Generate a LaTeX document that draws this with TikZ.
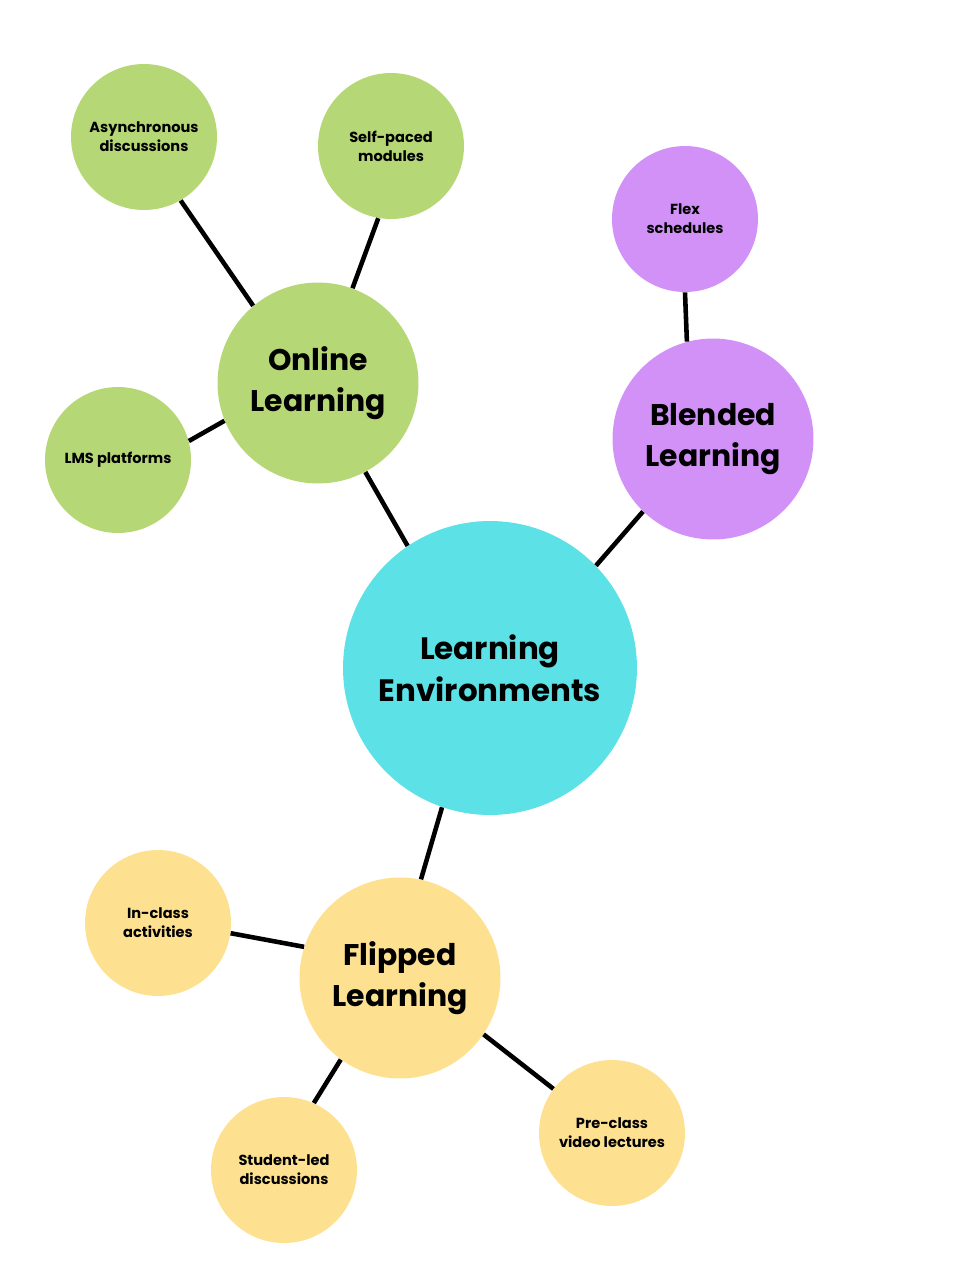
\documentclass[tikz,border=0pt]{standalone}
\usepackage{fontspec}
\setmainfont{Poppins}
\definecolor{cRoot}{HTML}{5CE1E6}
\definecolor{cOnline}{HTML}{B6D776}
\definecolor{cBlend}{HTML}{D291F7}
\definecolor{cFlip}{HTML}{FDE090}
\tikzset{
  rootnode/.style={circle, fill=#1, minimum size=5.88cm, inner sep=0pt,
    align=center, font=\bfseries\fontsize{17.6}{24}\selectfont},
  topicnode/.style={circle, fill=#1, minimum size=4.02cm, inner sep=0pt,
    align=center, font=\bfseries\fontsize{17}{23}\selectfont},
  leafnode/.style={circle, fill=#1, minimum size=2.92cm, inner sep=0pt,
    align=center, font=\bfseries\fontsize{8.3}{10.8}\selectfont},
  link/.style={black, line width=2.6pt}
}

\begin{document}
\begin{tikzpicture}[x=0.02cm, y=-0.02cm]

  \useasboundingbox (0,0) rectangle (980,1269);

  % --------------------------------------------------------------------------
  % Centre and main topics
  % --------------------------------------------------------------------------
  \node[rootnode=cRoot]    (env)     at (490,668) {Learning\\Environments};
  \node[topicnode=cOnline] (online)  at (318,383) {Online\\Learning};
  \node[topicnode=cBlend]  (blended) at (713,439) {Blended\\Learning};
  \node[topicnode=cFlip]   (flipped) at (400,978) {Flipped\\Learning};

  % --------------------------------------------------------------------------
  % Leaves
  % --------------------------------------------------------------------------
  \node[leafnode=cOnline] (async) at (144,137) {Asynchronous\\discussions};
  \node[leafnode=cOnline] (self)  at (391,146) {Self-paced\\modules};
  \node[leafnode=cOnline] (lms)   at (118,460) {LMS platforms};

  \node[leafnode=cBlend]  (flex)  at (685,219) {Flex\\schedules};

  \node[leafnode=cFlip]   (inclass)  at (158,923)  {In-class\\activities};
  \node[leafnode=cFlip]   (student)  at (284,1170) {Student-led\\discussions};
  \node[leafnode=cFlip]   (preclass) at (612,1133) {Pre-class\\video lectures};

  % --------------------------------------------------------------------------
  % Links (border anchors, as the strokes are not quite centre to centre)
  % --------------------------------------------------------------------------
  \draw[link] (env.124)  -- (online.-62);
  \draw[link] (env.44)   -- (blended.226);
  \draw[link] (env.-109) -- (flipped.78);

  \draw[link] (online.130) -- (async.-60);
  \draw[link] (online.70)  -- (self.-100);
  \draw[link] (online.202) -- (lms.15);
  \draw[link] (blended.105) -- (flex.-90);
  \draw[link] (flipped.162)  -- (inclass.-8);
  \draw[link] (flipped.-126) -- (student.66);
  \draw[link] (flipped.-34)  -- (preclass.143);

\end{tikzpicture}
\end{document}
